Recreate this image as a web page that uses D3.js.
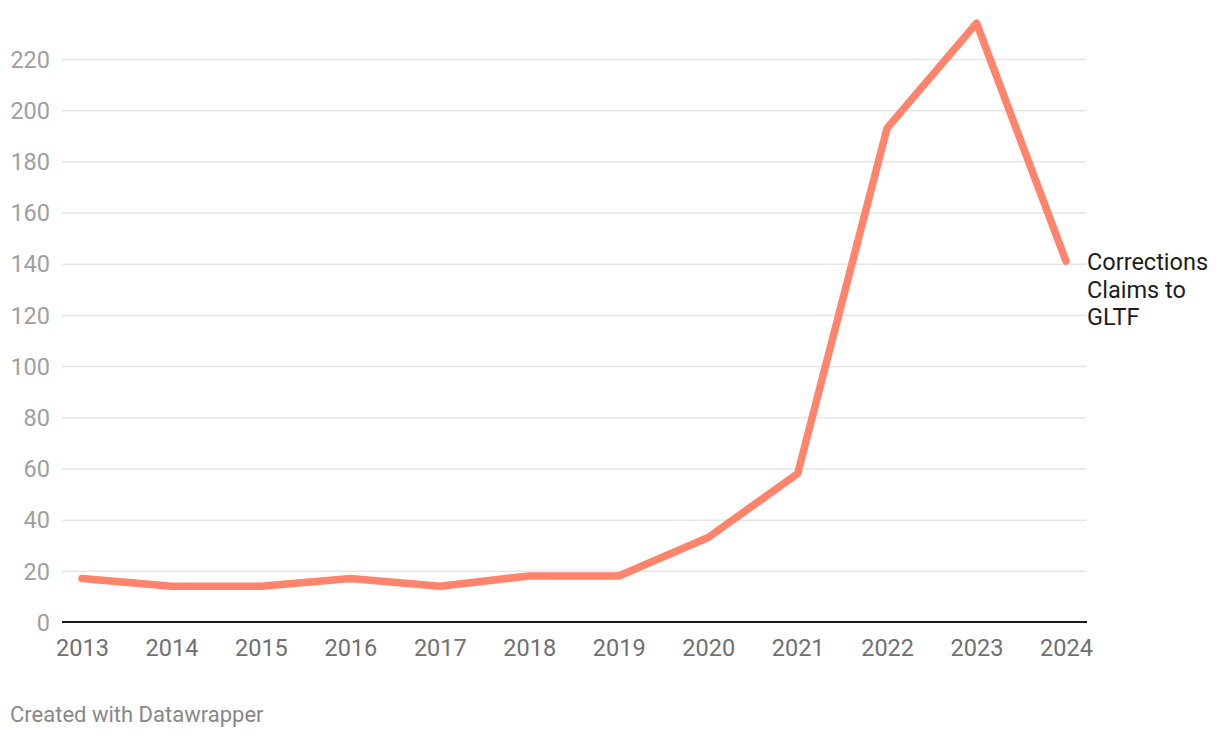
<!DOCTYPE html>
<html><head><meta charset="utf-8">
<script src="https://cdn.jsdelivr.net/npm/d3@7"></script>
<style>
body{margin:0;background:#fff;font-family:Roboto,sans-serif;}
</style></head>
<body>
<svg id="chart" width="1220" height="738"></svg>
<script>
const years = [2013,2014,2015,2016,2017,2018,2019,2020,2021,2022,2023,2024];
const claims = [17,14,14,17,14,18,18,33,58,193,234,141];
const yTicks = [0,20,40,60,80,100,120,140,160,180,200,220];
const seriesLabel = ["Corrections","Claims to","GLTF"];

const svg = d3.select("#chart");
const mLeft = 62, mRight = 1086, mTop = 59, mBottom = 622;
const fs = "23.5px";
const x = d3.scaleLinear().domain([2013,2024]).range([82,1066]);
const y = d3.scaleLinear().domain([0,220]).range([mBottom, mTop]);

// gridlines
const yAxis = d3.axisLeft(y).tickValues(yTicks).tickSize(-(mRight-mLeft)).tickFormat(d3.format("d"));
const gy = svg.append("g").attr("transform",`translate(${mLeft},0)`).call(yAxis);
gy.select(".domain").remove();
gy.selectAll(".tick line").attr("stroke","#e5e5e5").attr("stroke-width",1.5);
gy.selectAll(".tick text").attr("x",-12).attr("fill","#a0a0a0")
  .style("font-family","Roboto").style("font-size",fs).attr("dy","0.35em");
gy.selectAll(".tick").filter(d=>d===0).select("line").remove();

// baseline
svg.append("line").attr("x1",mLeft).attr("x2",mRight+1).attr("y1",y(0)).attr("y2",y(0))
  .attr("stroke","#1a1a1a").attr("stroke-width",2);

// x axis
const xAxis = d3.axisBottom(x).tickValues(years).tickSize(0).tickFormat(d3.format("d"));
const gx = svg.append("g").attr("transform",`translate(0,${mBottom})`).call(xAxis);
gx.select(".domain").remove();
gx.selectAll(".tick text").attr("y",34).attr("dy","0").attr("fill","#707070")
  .style("font-family","Roboto").style("font-size",fs);

// line
const line = d3.line().x((d,i)=>x(years[i])).y(d=>y(d));
svg.append("path").datum(claims).attr("d",line).attr("fill","none")
  .attr("stroke","#ff846b").attr("stroke-width",7.5)
  .attr("stroke-linejoin","round").attr("stroke-linecap","round");

// label
const lbl = svg.append("text").attr("x",x(2024)+21).attr("y",y(claims[claims.length-1])+9)
  .attr("fill","#1d1d1d").style("font-family","Roboto").style("font-size",fs);
seriesLabel.forEach((t,i)=>lbl.append("tspan").attr("x",x(2024)+21).attr("dy",i===0?0:27.5).text(t));

// footer
svg.append("text").attr("x",10).attr("y",722).attr("fill","#888")
  .style("font-family","Roboto").style("font-size","22px").text("Created with Datawrapper");
</script>
</body></html>
